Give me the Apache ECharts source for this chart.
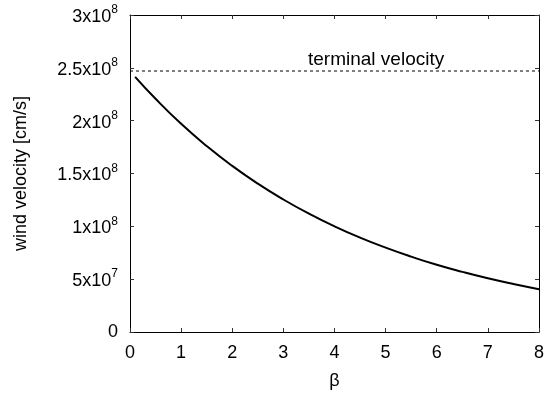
<!DOCTYPE html>
<html>
<head>
<meta charset="utf-8">
<script src="https://cdn.jsdelivr.net/npm/echarts@6/dist/echarts.min.js"></script>
<style>
    html, body { margin: 0; padding: 0; background: #fff; }
    #chart1 { width: 547px; height: 397px; }
</style>
</head>
<body>
<div id="chart1"></div>
<script>
// values
var betaList = [0.1, 0.5, 1, 1.5, 2, 2.5, 3, 3.5, 4, 4.5, 5, 5.5, 6, 6.5, 7, 7.5, 8];
var velList = [2.415e8, 2.207e8, 1.97e8, 1.76e8, 1.572e8, 1.404e8, 1.254e8, 1.12e8, 1.0e8,
    8.93e7, 7.98e7, 7.13e7, 6.36e7, 5.69e7, 5.08e7, 4.54e7, 4.05e7];
var terminalV = 2.47e8;
var xRange = [0, 8];
var yRange = [0, 3e8];

var fontName = 'Liberation Sans';

// y轴刻度 3x10^8 这种写法
function sciLabel(v) {
    if (v === 0) return '0';
    var e = Math.floor(Math.log10(v) + 1e-9);
    var m = Math.round(v / Math.pow(10, e) * 100) / 100;
    return '{b|' + m + 'x10}{s|' + e + '}';
}

function getChart(id) {
    var myChart = echarts.init(document.getElementById(id));
    var curve = [];
    for (var i = 0; i < betaList.length; i++) {
        curve.push([betaList[i], velList[i]]);
    }
    var tickStyle = { show: true, inside: true, length: 4, lineStyle: { color: '#333', width: 1 } };
    // onZero 关掉, 不然上边和右边的轴线会跑到0的位置
    var lineStyle = { show: true, onZero: false, lineStyle: { color: '#000', width: 1 } };

    var option = {
        animation: false,
        grid: { left: 130, right: 7, top: 15, bottom: 65 },
        xAxis: [{
            type: 'value',
            min: xRange[0],
            max: xRange[1],
            interval: 1,
            name: 'β',
            nameLocation: 'middle',
            nameGap: 40,
            nameTextStyle: { fontFamily: fontName, fontSize: 18, color: '#000' },
            axisLine: lineStyle,
            axisTick: tickStyle,
            splitLine: { show: false },
            axisLabel: { margin: 12, fontFamily: fontName, fontSize: 18, color: '#000' }
        }, {
            type: 'value',
            position: 'top',
            min: xRange[0],
            max: xRange[1],
            interval: 1,
            axisLine: lineStyle,
            axisTick: tickStyle,
            splitLine: { show: false },
            axisLabel: { show: false }
        }],
        yAxis: [{
            type: 'value',
            min: yRange[0],
            max: yRange[1],
            interval: 5e7,
            name: 'wind velocity [cm/s]',
            nameLocation: 'middle',
            nameGap: 100,
            nameTextStyle: { fontFamily: fontName, fontSize: 18, color: '#000' },
            axisLine: lineStyle,
            axisTick: tickStyle,
            splitLine: { show: false },
            axisLabel: {
                margin: 12,
                formatter: sciLabel,
                color: '#000',
                rich: {
                    b: { fontFamily: fontName, fontSize: 18, color: '#000', verticalAlign: 'bottom' },
                    s: { fontFamily: fontName, fontSize: 12, color: '#000', verticalAlign: 'top', padding: [0, 0, 10, 0] }
                },
                fontFamily: fontName,
                fontSize: 18
            }
        }, {
            type: 'value',
            position: 'right',
            min: yRange[0],
            max: yRange[1],
            interval: 5e7,
            axisLine: lineStyle,
            axisTick: tickStyle,
            splitLine: { show: false },
            axisLabel: { show: false }
        }],
        graphic: [{
            type: 'text',
            left: 308,
            top: 50,
            style: { text: 'terminal velocity', font: '19px "Liberation Sans"', fill: '#000' }
        }],
        series: [{
            name: 'terminal',
            type: 'line',
            data: [[xRange[0], terminalV], [xRange[1], terminalV]],
            symbol: 'none',
            lineStyle: { color: '#000', width: 1, type: [3, 3] }
        }, {
            name: 'wind',
            type: 'line',
            data: curve,
            smooth: true,
            symbol: 'none',
            lineStyle: { color: '#000', width: 2 }
        }]
    };
    myChart.setOption(option);
}

getChart('chart1');
</script>
</body>
</html>
